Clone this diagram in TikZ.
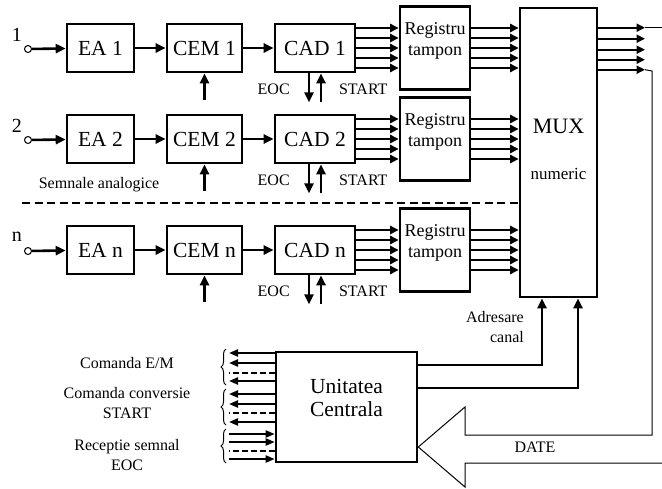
\documentclass[tikz,border=0pt]{standalone}
\usepackage{fontspec}
\setmainfont{Liberation Serif}
\usetikzlibrary{arrows.meta,decorations.pathreplacing,calc}
\begin{document}
\begin{tikzpicture}[x=1pt,y=-1pt,
 blk/.style={draw,line width=2.6pt,minimum height=48pt,inner sep=0pt,font=\fontsize{21.5}{24}\selectfont},
 ar/.style={line width=2.6pt,-{Triangle[length=10pt,width=9pt]}},
 bus/.style={line width=2.4pt,-{Triangle[length=8.5pt,width=8pt]}},
 sbus/.style={line width=2.1pt,-{Triangle[length=9pt,width=7pt]}},
 lbl/.style={font=\fontsize{16}{20}\selectfont,inner sep=0pt},
 thinl/.style={line width=1pt},
 bigbox/.style={draw,line width=2.6pt,inner sep=0pt}
]
\useasboundingbox (0,0) rectangle (662,488);

% MUX
\node[bigbox,minimum width=77pt,minimum height=289pt] (mux) at (558.5,152.5) {};
\node[font=\fontsize{22}{24}\selectfont] (muxt) at (558.5,126) {MUX};
\node[font=\fontsize{17}{20}\selectfont] (muxn) at (558.5,174) {numeric};

% rows
\foreach \r/\y in {1/48,2/139,n/250} {
  \node[circle,draw,thinl,minimum size=7pt,inner sep=0pt] (in\r) at (28,{\y+1}) {};
  \node[font=\fontsize{20}{20}\selectfont,inner sep=0pt] (nr\r) at (17,{\y-13}) {\r};
  \node[blk,minimum width=67pt] (ea\r) at (100.5,\y) {EA \r};
  \node[blk,minimum width=75pt] (cem\r) at (204.5,\y) {CEM \r};
  \node[blk,minimum width=80pt] (cad\r) at (315,\y) {CAD \r};
  \node[bigbox,minimum width=70pt,minimum height=83pt] (reg\r) at (435,\y) {};
  \node[font=\fontsize{18}{21}\selectfont,align=center,inner sep=0pt] (regt\r) at ([yshift=7pt]reg\r.center) {Registru\\tampon};
  \draw[ar] (in\r) -- (ea\r);
  \draw[ar] (ea\r) -- (cem\r);
  \draw[ar] (cem\r) -- (cad\r);
  \coordinate (cm\r) at ([yshift=-27pt]cem\r.south);
  \draw[ar] (cm\r) -- (cem\r.south);
  \coordinate (eoc\r) at ([xshift=-6pt,yshift=-29pt]cad\r.south);
  \draw[ar] (eoc\r |- cad\r.south) -- (eoc\r);
  \coordinate (st\r) at ([xshift=6pt,yshift=-29pt]cad\r.south);
  \draw[ar] (st\r) -- (st\r |- cad\r.south);
  \node[lbl] (eocl\r) at ([yshift=-16pt]cad\r.south west) {EOC};
  \node[lbl] (stl\r) at ([xshift=7pt,yshift=-16pt]cad\r.south east) {START};
  \foreach \d in {-20,-10,0,10,20} {
    \draw[bus] ([yshift=\d pt]cad\r.east) -- ([yshift=\d pt]reg\r.west);
    \path ([yshift=\d pt]reg\r.east) coordinate (p);
    \draw[bus] (p) -- (p -| mux.west);
  }
}

% separator
\node[lbl] (sa) at (99,185) {Semnale analogice};
\coordinate (sep) at (22,203);
\draw[line width=2.6pt,dash pattern=on 8pt off 4.5pt] (sep) -- (sep -| mux.west);

% MUX outputs
\coordinate (oe) at (645,0);
\coordinate (rt) at (662,0);
\foreach \o/\n in {21/1,32/2,43/3,53/4,63/5} {
  \path ([yshift=-\o pt]mux.north east) coordinate (q\n);
  \draw[bus] (q\n) -- (q\n -| oe);
}
\draw[thinl] (q1 -| oe) -- (q1 -| rt);

% central unit
\node[bigbox,minimum width=141pt,minimum height=110pt] (uc) at (346.5,407) {};
\node[font=\fontsize{21.5}{23}\selectfont,align=center,inner sep=0pt] (uct) at (346.5,398) {Unitatea\\Centrala};

% addressing
\draw[ar] ([yshift=42pt]uc.east) -| ([xshift=-16.5pt]mux.south);
\draw[ar] ([yshift=19pt]uc.east) -| ([xshift=19.5pt]mux.south);
\node[lbl,align=right,anchor=east] (adr) at (524,327) {Adresare\\canal};

% DATE hollow arrow
\coordinate (tip) at ([yshift=-40pt]uc.east);
\draw[thinl] (q5 -| oe) -- (652,71) -- (652,435) -- (465,435) -- (465,407) -- (tip) -- (465,487) -- (465,463) -- (662,463);
\node[lbl] (date) at (535,447) {DATE};

% left signal groups
\foreach \yy in {353,363,381,394,404,422} {
  \coordinate (l) at (229,\yy);
  \draw[sbus] (l -| uc.west) -- (l);
}
\foreach \yy in {373,413,451} {
  \coordinate (l) at (229,\yy);
  \draw[line width=1.7pt,dash pattern=on 6pt off 3pt] (l -| uc.west) -- (l);
}
\foreach \yy in {434,442,459} {
  \coordinate (l) at (229,\yy);
  \draw[sbus] (l) -- (l -| uc.west);
}
\draw[thinl,decorate,decoration={brace,amplitude=5pt}] (226,385) -- (226,349);
\draw[thinl,decorate,decoration={brace,amplitude=5pt}] (226,425) -- (226,389);
\draw[thinl,decorate,decoration={brace,amplitude=5pt}] (226,463) -- (226,429);

\node[lbl] (c1) at (127,363) {Comanda E/M};
\node[lbl,align=center] (c2) at (127,403) {Comanda conversie\\START};
\node[lbl,align=center] (c3) at (127,455) {Receptie semnal\\EOC};
\end{tikzpicture}
\end{document}
